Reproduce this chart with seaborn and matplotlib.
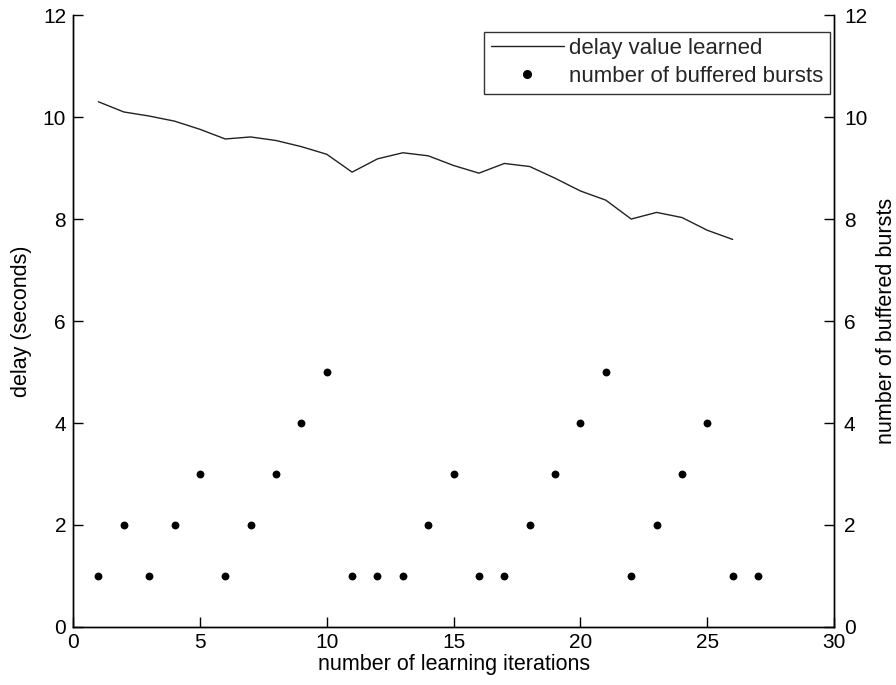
import matplotlib
matplotlib.use("Agg")
import matplotlib.pyplot as plt
import seaborn as sns
import pandas as pd
from matplotlib.lines import Line2D

# learned delay per iteration (seconds)
delay_iter = list(range(1, 27))
delay_values = [10.30, 10.10, 10.02, 9.92, 9.76, 9.57, 9.61, 9.54, 9.42, 9.27,
                8.92, 9.18, 9.30, 9.24, 9.05, 8.90, 9.09, 9.03, 8.80, 8.55,
                8.37, 8.00, 8.13, 8.03, 7.78, 7.60]

# buffered bursts per iteration
burst_iter = list(range(1, 28))
burst_counts = [1, 2, 1, 2, 3, 1, 2, 3, 4, 5, 1, 1, 1, 2, 3, 1, 1, 2, 3, 4,
                5, 1, 2, 3, 4, 1, 1]

x_ticks = [0, 5, 10, 15, 20, 25, 30]
y_ticks = [0, 2, 4, 6, 8, 10, 12]

sns.set_theme(style="white")
plt.rcParams["font.family"] = ["Liberation Sans", "DejaVu Sans"]
fs = 15.5
tfs = 15
lfs = 16

df_delay = pd.DataFrame({"iteration": delay_iter, "delay": delay_values})
df_burst = pd.DataFrame({"iteration": burst_iter, "bursts": burst_counts})

fig = plt.figure(figsize=(8.96, 6.85), dpi=100)
ax = fig.add_axes([0.0815, 0.0847, 0.8495, 0.8933])
ax2 = ax.twinx()

sns.lineplot(data=df_delay, x="iteration", y="delay", ax=ax,
             color="#222222", linewidth=1.0, legend=False)
sns.scatterplot(data=df_burst, x="iteration", y="bursts", ax=ax2,
                color="black", s=32, edgecolor="black", linewidth=0, legend=False)

for a in (ax, ax2):
    a.set_xlim(0, 30)
    a.set_ylim(0, 12)
    a.set_yticks(y_ticks)
    a.spines["top"].set_visible(False)
    for s in a.spines.values():
        s.set_color("black")
        s.set_linewidth(1.0)

ax.set_xticks(x_ticks)
ax.tick_params(axis="x", direction="in", length=7, width=1, labelsize=tfs,
               colors="black", bottom=True, top=False, pad=4)
ax.tick_params(axis="y", direction="in", length=7, width=1, labelsize=tfs,
               colors="black", left=True, right=False, pad=5)
ax2.tick_params(axis="y", direction="in", length=7, width=1, labelsize=tfs,
                colors="black", left=False, right=True, pad=7)

ax.set_xlabel("number of learning iterations", fontsize=fs, color="black", labelpad=2)
ax.set_ylabel("delay (seconds)", fontsize=fs, color="black", labelpad=8)
ax2.set_ylabel("number of buffered bursts", fontsize=fs, color="black", labelpad=6)

handles = [
    Line2D([], [], color="#222222", linewidth=1.0),
    Line2D([], [], color="black", marker="o", linestyle="none", markersize=5.5),
]
leg = ax2.legend(handles, ["delay value learned", "number of buffered bursts"],
                 loc="upper right", bbox_to_anchor=(0.995, 0.973),
                 fontsize=lfs, frameon=True, fancybox=False, handlelength=3.3,
                 handletextpad=0.25, borderpad=0.3, labelspacing=0.3,
                 borderaxespad=0.0)
leg.get_frame().set_edgecolor("black")
leg.get_frame().set_linewidth(1.0)

fig.savefig("out.png", dpi=100, facecolor="white")
